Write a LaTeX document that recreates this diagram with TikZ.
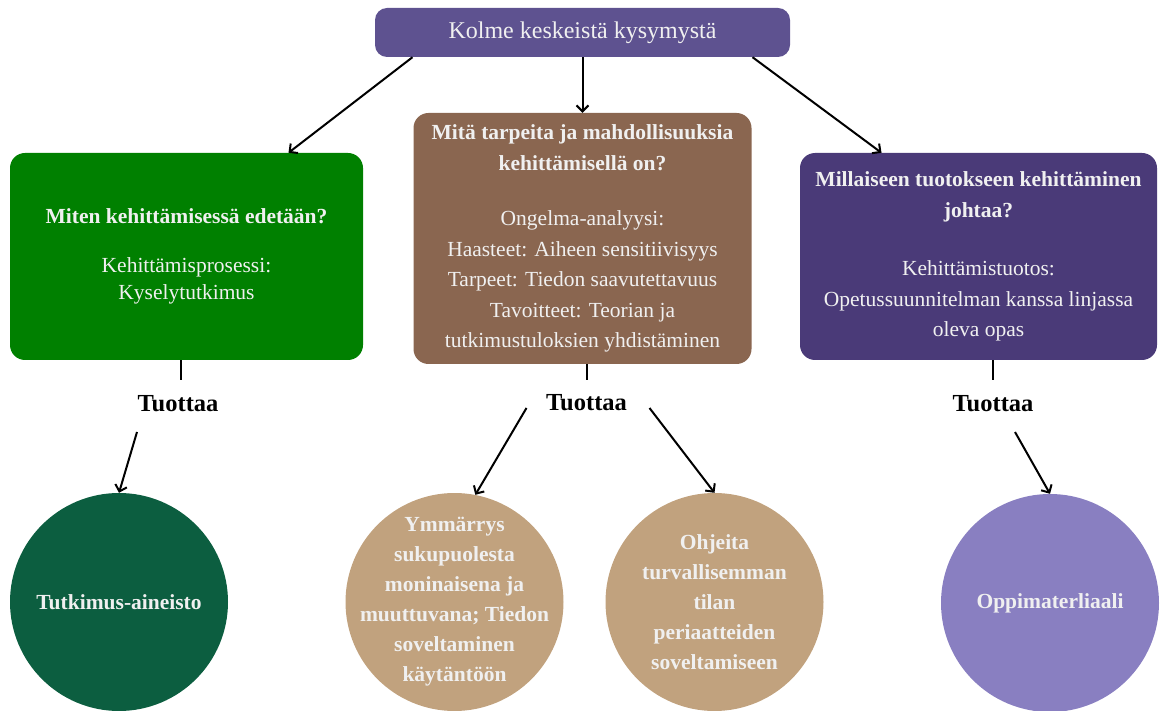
\documentclass[tikz,border=0pt]{standalone}
\usepackage{fontspec}
\setmainfont{Liberation Serif}
\usepackage{tikz}
\usetikzlibrary{positioning,arrows.meta}

\definecolor{otsikko}{HTML}{5E5290}
\definecolor{vihrea}{HTML}{008000}
\definecolor{ruskea}{HTML}{8A6650}
\definecolor{violetti}{HTML}{4A3A78}
\definecolor{tummavihrea}{HTML}{0C5E40}
\definecolor{beige}{HTML}{C1A27E}
\definecolor{lila}{HTML}{897FC1}
\definecolor{vaalea}{HTML}{F0F0F0}

\tikzset{
  kysbox/.style={rectangle,rounded corners=15pt,text=vaalea,align=center,
    font=\fontsize{21.5}{30.5}\selectfont},
  tulos/.style={circle,minimum size=218pt,inner sep=-30pt,text=vaalea,align=center,
    font=\bfseries\fontsize{21.5}{30}\selectfont},
  tuottaa/.style={inner sep=0pt,font=\bfseries\fontsize{24.5}{30}\selectfont},
  nuoli/.style={->,line width=2pt,>={Straight Barb[length=6pt,width=12pt]}},
  tappi/.style={line width=2pt}
}

\begin{document}
\begin{tikzpicture}[on grid]
  \useasboundingbox (0pt,0pt) rectangle (1160pt,-711pt);
  \node[kysbox,fill=otsikko,minimum width=415pt,minimum height=49pt,rounded corners=12pt,
        font=\fontsize{24}{30}\selectfont] (title) at (582.5pt,-32.5pt) {Kolme keskeistä kysymystä};
  \node[kysbox,fill=vihrea,minimum width=353pt,minimum height=207pt] (miten) [below left=224pt and 396pt of title]
    {\textbf{Miten kehittämisessä edetään?}\\[18pt]Kehittämisprosessi:\\[-3pt]Kyselytutkimus};
  \node[kysbox,fill=ruskea,minimum width=338pt,minimum height=251pt] (mita) [below=206pt of title]
    {\textbf{Mitä tarpeita ja mahdollisuuksia}\\\textbf{kehittämisellä on?}\\[25pt]Ongelma-analyysi:\\
     Haasteet: Aiheen sensitiivisyys\\Tarpeet: Tiedon saavutettavuus\\Tavoitteet: Teorian ja\\
     tutkimustuloksien yhdistäminen};
  \node[kysbox,fill=violetti,minimum width=357pt,minimum height=207pt] (millainen) [below right=224pt and 396pt of title]
    {\textbf{Millaiseen tuotokseen kehittäminen}\\\textbf{johtaa?}\\[28pt]Kehittämistuotos:\\
     Opetussuunnitelman kanssa linjassa\\oleva opas};
  % tuottaa-tekstit
  \node[tuottaa] (tuo1) [below left=147.5pt and 8.5pt of miten] {Tuottaa};
  \node[tuottaa] (tuo2) [below right=164.5pt and 4pt of mita] {Tuottaa};
  \node[tuottaa] (tuo3) [below right=147.5pt and 14.5pt of millainen] {Tuottaa};
  % tulokset
  \node[tulos,fill=tummavihrea] (aineisto) [below left=198pt and 59pt of tuo1] {Tutkimus-aineisto};
  \node[tulos,fill=beige] (ymmarrys) [below left=199pt and 132pt of tuo2]
    {Ymmärrys\\sukupuolesta\\moninaisena ja\\muuttuvana; Tiedon\\soveltaminen\\käytäntöön};
  \node[tulos,fill=beige] (ohjeita) [below right=199pt and 128pt of tuo2]
    {Ohjeita\\turvallisemman\\tilan\\periaatteiden\\soveltamiseen};
  \node[tulos,fill=lila] (oppimat) [below right=199pt and 57pt of tuo3] {Oppimaterliaali};

  \draw[nuoli] ([xshift=-170pt]title.south) -- ([xshift=102pt]miten.north);
  \draw[nuoli] (title.south) -- (mita.north);
  \draw[nuoli] ([xshift=170pt]title.south) -- ([xshift=-97pt]millainen.north);
  \draw[tappi] ([xshift=3pt]tuo1 |- miten.south) -- ([xshift=3pt,yshift=16pt]tuo1.north);
  \draw[tappi] (tuo2 |- mita.south) -- ([yshift=15pt]tuo2.north);
  \draw[tappi] (tuo3 |- millainen.south) -- ([yshift=16pt]tuo3.north);
  \draw[nuoli] ([shift={(-41pt,-28pt)}]tuo1.center) -- (aineisto.north);
  \draw[nuoli] ([shift={(-60pt,-5pt)}]tuo2.center) -- (ymmarrys.79);
  \draw[nuoli] ([shift={(63pt,-5pt)}]tuo2.center) -- (ohjeita.north);
  \draw[nuoli] ([shift={(22pt,-28pt)}]tuo3.center) -- (oppimat.north);
\end{tikzpicture}
\end{document}
